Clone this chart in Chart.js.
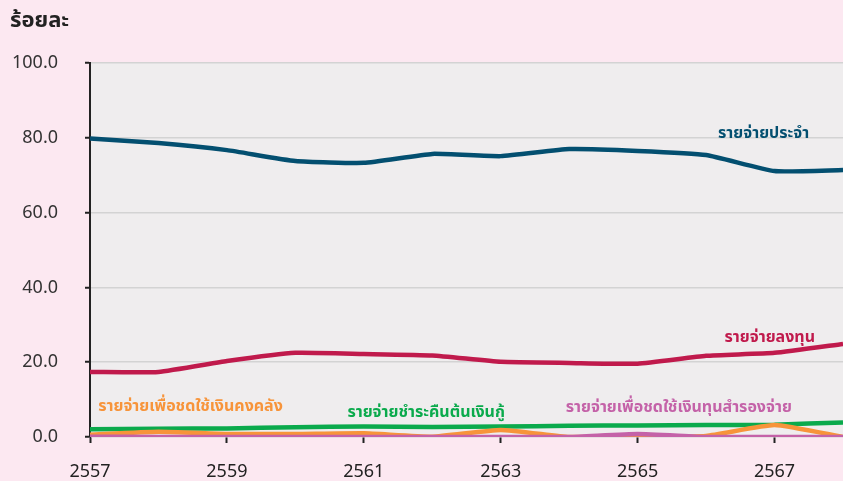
<!DOCTYPE html>
<html>
<head>
<meta charset="utf-8">
<script src="https://cdn.jsdelivr.net/npm/chart.js@4/dist/chart.umd.min.js"></script>
<style>
  html, body { margin: 0; padding: 0; background: #fce8f1; }
  #wrap { width: 843px; height: 481px; position: relative; }
</style>
</head>
<body>
<div id="wrap"><canvas id="chart"></canvas></div>
<script>
const years = [2557, 2558, 2559, 2560, 2561, 2562, 2563, 2564, 2565, 2566, 2567, 2568];

const recurrent = [79.8, 78.6, 76.7, 73.8, 73.3, 75.7, 75.1, 77.0, 76.5, 75.4, 71.1, 71.4];
const investment = [17.4, 17.4, 20.3, 22.5, 22.2, 21.8, 20.1, 19.8, 19.6, 21.7, 22.5, 24.9];
const debtRepay = [2.1, 2.2, 2.3, 2.6, 2.8, 2.7, 2.8, 3.0, 3.1, 3.2, 3.3, 3.9];
const treasury = [0.6, 1.4, 0.8, 0.8, 1.0, 0.1, 1.9, 0.0, 0.0, 0.3, 3.2, 0.0];
const reserve = [0.1, 0.0, 0.0, 0.0, 0.0, 0.0, 0.0, 0.0, 0.8, 0.0, 0.0, 0.0];

const yTicks = [0, 20, 40, 60, 80, 100];

const seriesNames = [
  'รายจ่ายประจำ',
  'รายจ่ายลงทุน',
  'รายจ่ายชำระคืนต้นเงินกู้',
  'รายจ่ายเพื่อชดใช้เงินคงคลัง',
  'รายจ่ายเพื่อชดใช้เงินทุนสำรองจ่าย'
];
const seriesValues = [recurrent, investment, debtRepay, treasury, reserve];
const colors = ['#034f70', '#c01a4c', '#0aaa4c', '#f7943a', '#c462a8'];
const drawOrder = [5, 4, 3, 2, 1];

// where each series name sits, in chart values
const labelSpots = [
  { x: 2566.84, y: 81.3, align: 'center' },
  { x: 2566.93, y: 26.7, align: 'center' },
  { x: 2560.76, y: 6.7, align: 'left' },
  { x: 2557.12, y: 8.3, align: 'left' },
  { x: 2563.95, y: 7.8, align: 'left' }
];

const FONT = "'Noto Sans', 'Noto Sans Thai', sans-serif";

const plotBg = {
  id: 'plotBg',
  beforeDraw(chart) {
    const { ctx, chartArea: a } = chart;
    ctx.save();
    ctx.fillStyle = '#efedee';
    ctx.fillRect(a.left, a.top, a.right - a.left, a.bottom - a.top);
    ctx.restore();
  }
};

const seriesLabels = {
  id: 'seriesLabels',
  afterDatasetsDraw(chart) {
    const { ctx, scales } = chart;
    ctx.save();
    ctx.font = 'bold 16px ' + FONT;
    ctx.textBaseline = 'middle';
    labelSpots.forEach((s, i) => {
      ctx.fillStyle = colors[i];
      ctx.textAlign = s.align;
      ctx.fillText(seriesNames[i], scales.x.getPixelForValue(s.x), scales.y.getPixelForValue(s.y));
    });
    // y axis title
    ctx.fillStyle = '#222';
    ctx.font = 'bold 22px ' + FONT;
    ctx.textAlign = 'left';
    ctx.fillText('ร้อยละ', 10, 21);
    ctx.restore();
  }
};

new Chart(document.getElementById('chart'), {
  type: 'line',
  data: {
    datasets: seriesValues.map((vals, i) => ({
      label: seriesNames[i],
      data: years.map((yr, j) => ({ x: yr, y: vals[j] })),
      borderColor: colors[i],
      backgroundColor: colors[i],
      borderWidth: 4.5,
      pointRadius: 0,
      tension: 0.15,
      order: drawOrder[i]
    }))
  },
  options: {
    responsive: true,
    maintainAspectRatio: false,
    animation: false,
    layout: { padding: { top: 63, right: 0, left: 0, bottom: 0 } },
    plugins: {
      legend: { display: false },
      tooltip: { enabled: false }
    },
    scales: {
      x: {
        type: 'linear',
        min: 2557,
        max: 2568,
        afterFit: s => { s.height = 44; },
        afterBuildTicks: s => { s.ticks = years.filter((y, i) => i % 2 === 0).map(v => ({ value: v })); },
        ticks: {
          callback: v => String(v),
          color: '#222',
          font: { family: FONT, size: 18 },
          padding: 18,
          maxRotation: 0
        },
        grid: { drawOnChartArea: false, tickLength: 6, tickColor: '#222', tickWidth: 2 },
        border: { display: false }
      },
      y: {
        min: 0,
        max: 100,
        afterFit: s => { s.width = 90; },
        afterBuildTicks: s => { s.ticks = yTicks.map(v => ({ value: v })); },
        ticks: {
          callback: v => v.toFixed(1),
          color: '#333',
          font: { family: FONT, size: 18 },
          padding: 27
        },
        grid: { color: '#d3d3d3', lineWidth: 1.5, tickLength: 5, tickColor: '#222', tickWidth: 2 },
        border: { display: true, color: '#222', width: 2 }
      }
    }
  },
  plugins: [plotBg, seriesLabels]
});
</script>
</body>
</html>
